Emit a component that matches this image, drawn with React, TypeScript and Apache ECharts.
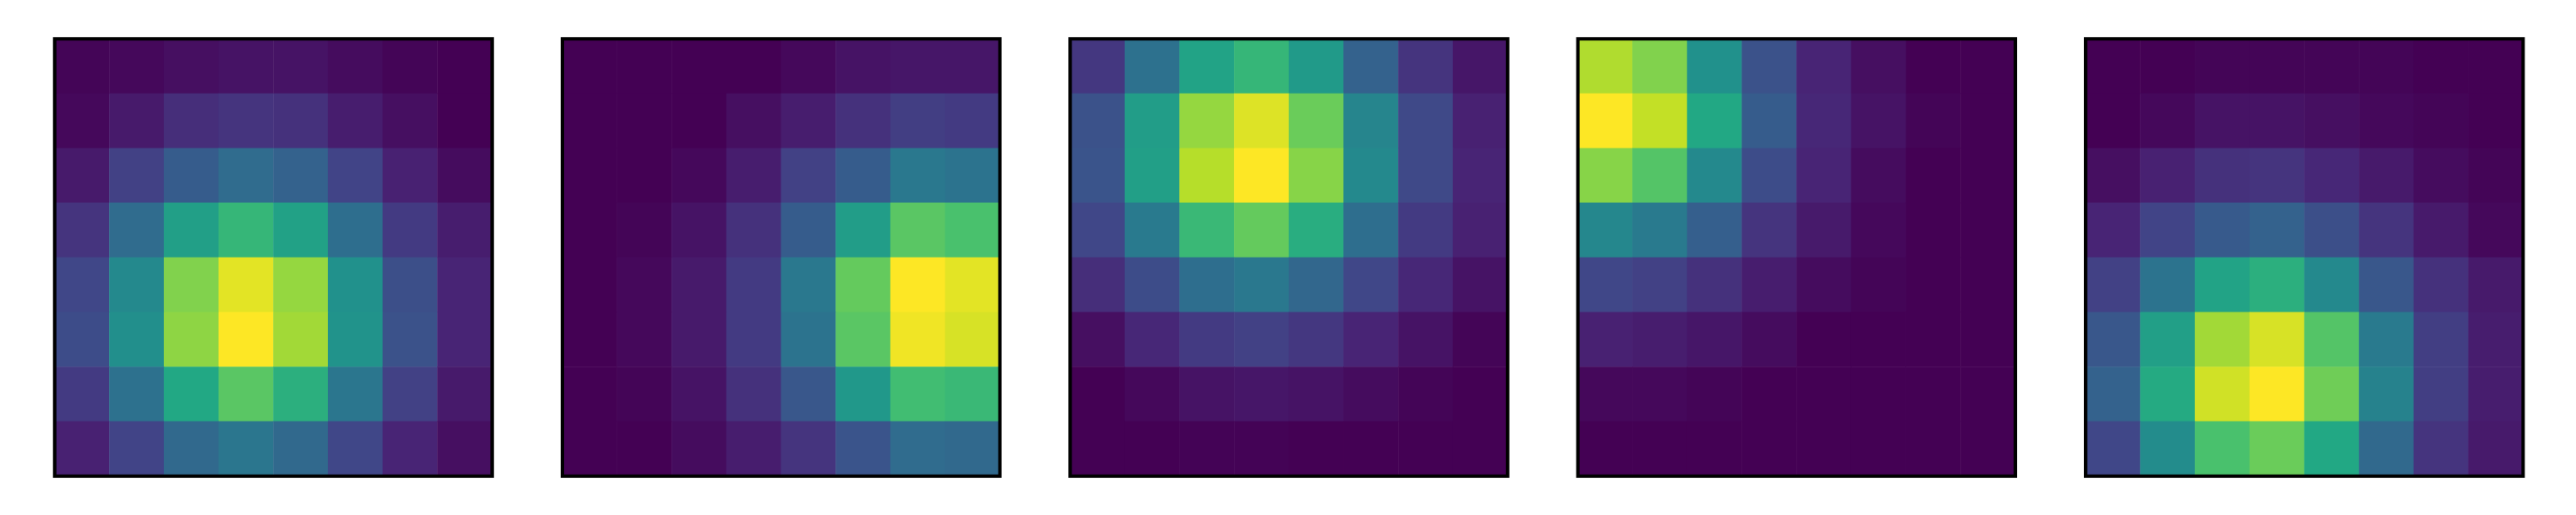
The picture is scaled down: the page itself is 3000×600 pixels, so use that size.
import React, { useEffect, useRef } from "react";
import * as echarts from "echarts";

// Normalised cell values (0..1), rows top -> bottom, columns left -> right
const panel1: number[][] = [
  [0.01, 0.02, 0.04, 0.05, 0.05, 0.03, 0.01, 0.0],
  [0.02, 0.07, 0.13, 0.15, 0.14, 0.08, 0.04, 0.0],
  [0.07, 0.19, 0.29, 0.35, 0.31, 0.2, 0.09, 0.03],
  [0.15, 0.35, 0.56, 0.66, 0.57, 0.36, 0.17, 0.08],
  [0.21, 0.47, 0.81, 0.96, 0.84, 0.5, 0.24, 0.1],
  [0.23, 0.49, 0.83, 1.0, 0.86, 0.51, 0.25, 0.1],
  [0.17, 0.37, 0.6, 0.74, 0.63, 0.39, 0.19, 0.07],
  [0.09, 0.2, 0.34, 0.39, 0.34, 0.21, 0.1, 0.04],
];
const panel2: number[][] = [
  [0.0, 0.0, 0.0, 0.0, 0.02, 0.05, 0.06, 0.06],
  [0.0, 0.0, 0.0, 0.04, 0.08, 0.14, 0.18, 0.17],
  [0.0, 0.0, 0.02, 0.08, 0.19, 0.29, 0.4, 0.38],
  [0.0, 0.01, 0.05, 0.14, 0.29, 0.55, 0.74, 0.71],
  [0.0, 0.02, 0.07, 0.17, 0.4, 0.76, 1.0, 0.96],
  [0.0, 0.02, 0.07, 0.17, 0.38, 0.74, 0.98, 0.94],
  [0.0, 0.01, 0.05, 0.14, 0.27, 0.53, 0.69, 0.67],
  [0.0, 0.0, 0.03, 0.08, 0.15, 0.26, 0.35, 0.34],
];
const panel3: number[][] = [
  [0.16, 0.37, 0.58, 0.66, 0.54, 0.31, 0.15, 0.06],
  [0.25, 0.55, 0.84, 0.95, 0.77, 0.45, 0.22, 0.09],
  [0.26, 0.56, 0.89, 1.0, 0.82, 0.47, 0.22, 0.1],
  [0.21, 0.41, 0.67, 0.76, 0.62, 0.36, 0.17, 0.09],
  [0.13, 0.23, 0.36, 0.4, 0.33, 0.21, 0.11, 0.05],
  [0.04, 0.11, 0.17, 0.19, 0.16, 0.1, 0.05, 0.01],
  [0.0, 0.02, 0.05, 0.06, 0.05, 0.03, 0.01, 0.0],
  [0.0, 0.0, 0.005, 0.005, 0.0, 0.0, 0.0, 0.0],
];
const panel4: number[][] = [
  [0.88, 0.81, 0.5, 0.25, 0.1, 0.04, 0.0, 0.0],
  [1.0, 0.91, 0.6, 0.29, 0.11, 0.05, 0.01, 0.0],
  [0.82, 0.73, 0.47, 0.23, 0.1, 0.03, 0.0, 0.0],
  [0.46, 0.41, 0.3, 0.15, 0.07, 0.02, 0.0, 0.0],
  [0.21, 0.19, 0.14, 0.08, 0.03, 0.01, 0.0, 0.0],
  [0.09, 0.08, 0.06, 0.03, 0.0, 0.0, 0.0, 0.0],
  [0.02, 0.02, 0.01, 0.0, 0.0, 0.0, 0.0, 0.0],
  [0.0, 0.0, 0.0, 0.0, 0.0, 0.0, 0.0, 0.0],
];
const panel5: number[][] = [
  [0.0, 0.0, 0.01, 0.01, 0.01, 0.01, 0.0, 0.0],
  [0.0, 0.02, 0.05, 0.05, 0.04, 0.02, 0.01, 0.0],
  [0.04, 0.09, 0.14, 0.15, 0.11, 0.07, 0.03, 0.01],
  [0.1, 0.2, 0.28, 0.31, 0.24, 0.15, 0.07, 0.02],
  [0.19, 0.38, 0.58, 0.63, 0.47, 0.27, 0.14, 0.07],
  [0.27, 0.56, 0.86, 0.94, 0.73, 0.41, 0.18, 0.08],
  [0.31, 0.61, 0.93, 1.0, 0.78, 0.44, 0.18, 0.08],
  [0.21, 0.48, 0.71, 0.77, 0.6, 0.34, 0.15, 0.07],
];

const panels = [panel1, panel2, panel3, panel4, panel5];
const colLabels = ["0", "1", "2", "3", "4", "5", "6", "7"];
const rowLabels = ["0", "1", "2", "3", "4", "5", "6", "7"];

const viridis = [
  "#440154", "#482475", "#414487", "#355f8d", "#2a788e", "#21918c",
  "#22a884", "#44bf70", "#7ad151", "#bddf26", "#fde725",
];

// layout
const PANEL_LEFT = 63.7;
const PANEL_STEP = 591.3;
const PANEL_TOP = 45.3;
const PANEL_SIZE = 509.5;

export default function App() {
  const ref = useRef<HTMLDivElement>(null);
  useEffect(() => {
    if (!ref.current) return;
    const chart = echarts.init(ref.current, null, { renderer: "svg" });
    const grids = panels.map((_, i) => ({
      left: PANEL_LEFT + PANEL_STEP * i,
      top: PANEL_TOP,
      width: PANEL_SIZE,
      height: PANEL_SIZE,
      show: false,
    }));
    const xAxes = panels.map((_, i) => ({
      type: "category",
      gridIndex: i,
      data: colLabels,
      show: false,
    }));
    const yAxes = panels.map((_, i) => ({
      type: "category",
      gridIndex: i,
      data: rowLabels,
      inverse: true,
      show: false,
    }));
    const series = panels.map((p, i) => ({
      type: "heatmap",
      xAxisIndex: i,
      yAxisIndex: i,
      data: p.flatMap((row, r) => row.map((v, c) => [c, r, v])),
      itemStyle: { borderWidth: 0 },
      emphasis: { disabled: true },
    }));
    const visualMaps = panels.map((_, i) => ({
      type: "continuous",
      seriesIndex: i,
      min: 0,
      max: 1,
      show: false,
      inRange: { color: viridis },
    }));
    const graphics = panels.map((_, i) => ({
      type: "rect",
      z: 100,
      shape: {
        x: PANEL_LEFT + PANEL_STEP * i,
        y: PANEL_TOP,
        width: PANEL_SIZE,
        height: PANEL_SIZE,
      },
      style: { fill: "none", stroke: "#000000", lineWidth: 4 },
    }));
    chart.setOption({
      animation: false,
      backgroundColor: "#ffffff",
      grid: grids,
      xAxis: xAxes,
      yAxis: yAxes,
      visualMap: visualMaps,
      series,
      graphic: graphics,
    } as any);
    return () => chart.dispose();
  }, []);
  return (
    <div
      ref={ref}
      style={{ position: "fixed", left: 0, top: 0, width: 3000, height: 600 }}
    />
  );
}
